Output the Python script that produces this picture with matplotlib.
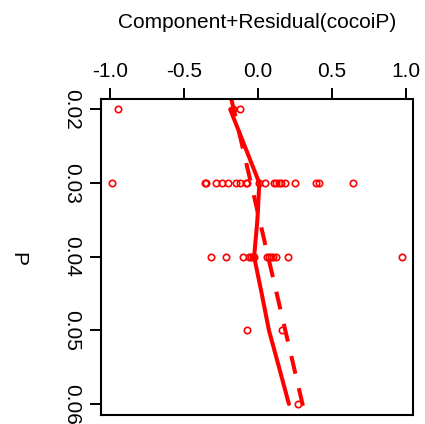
import numpy as np
import matplotlib
matplotlib.use("Agg")
import matplotlib.pyplot as plt

plt.rcParams['font.family'] = ['Liberation Sans', 'DejaVu Sans']

# partial residuals, one list per P level
p_levels = [0.02, 0.03, 0.04, 0.05, 0.06]
resid_002 = [-0.944, -0.165, -0.12]
resid_003 = [-0.984, -0.360, -0.349, -0.282, -0.241, -0.201, -0.145, -0.122,
             -0.081, -0.070, 0.009, 0.047, 0.110, 0.126, 0.140, 0.155, 0.184,
             0.248, 0.392, 0.414, 0.646]
resid_004 = [-0.318, -0.216, -0.099, -0.059, -0.048, -0.036, -0.025, 0.065,
             0.076, 0.088, 0.103, 0.121, 0.205, 0.973]
resid_005 = [-0.070, 0.162]
resid_006 = [0.270]

# smooth (solid) and linear component (dashed)
smooth_p = [0.02, 0.03, 0.035, 0.04, 0.045, 0.05, 0.055, 0.06]
smooth_val = [-0.187, 0.010, -0.003, -0.025, 0.026, 0.075, 0.143, 0.210]
comp_p = [0.02, 0.06]
comp_val = [-0.163, 0.302]

xticks = [-1.0, -0.5, 0.0, 0.5, 1.0]
yticks = [0.02, 0.03, 0.04, 0.05, 0.06]

fig = plt.figure(figsize=(4.25, 4.24), dpi=100)
ax = fig.add_axes([0.2376, 0.0212, 0.734, 0.746])

groups = [resid_002, resid_003, resid_004, resid_005, resid_006]
for p, vals in zip(p_levels, groups):
    ax.plot(vals, [p] * len(vals), 'o', mfc='none', mec='red', ms=4.6, mew=1.2)

ax.plot(smooth_val, smooth_p, '-', color='red', lw=2.9, solid_capstyle='round')
ax.axline((comp_val[0], comp_p[0]), (comp_val[1], comp_p[1]), color='red',
          lw=2.9, dashes=(4.5, 3.7))

ax.set_xlim(-1.061, 1.049)
ax.set_ylim(0.0615, 0.01856)

ax.xaxis.tick_top()
ax.set_xticks(xticks)
ax.set_xticklabels(['%.1f' % v for v in xticks])
ax.set_yticks(yticks)
ax.set_yticklabels(['%.2f' % v for v in yticks], rotation=270, va='center')
ax.tick_params(axis='both', direction='out', length=8, width=1.4, labelsize=15,
               right=False, bottom=False)
ax.tick_params(axis='x', pad=5)
ax.tick_params(axis='y', pad=6)
for s in ax.spines.values():
    s.set_linewidth(1.5)

fig.text(257 / 425, 1 - 22 / 424, 'Component+Residual(cocoiP)', fontsize=15,
         ha='center', va='center')
fig.text(17.5 / 425, 1 - 259 / 424, 'P', fontsize=15, rotation=270,
         ha='center', va='center')

fig.savefig('out.png', dpi=100)
